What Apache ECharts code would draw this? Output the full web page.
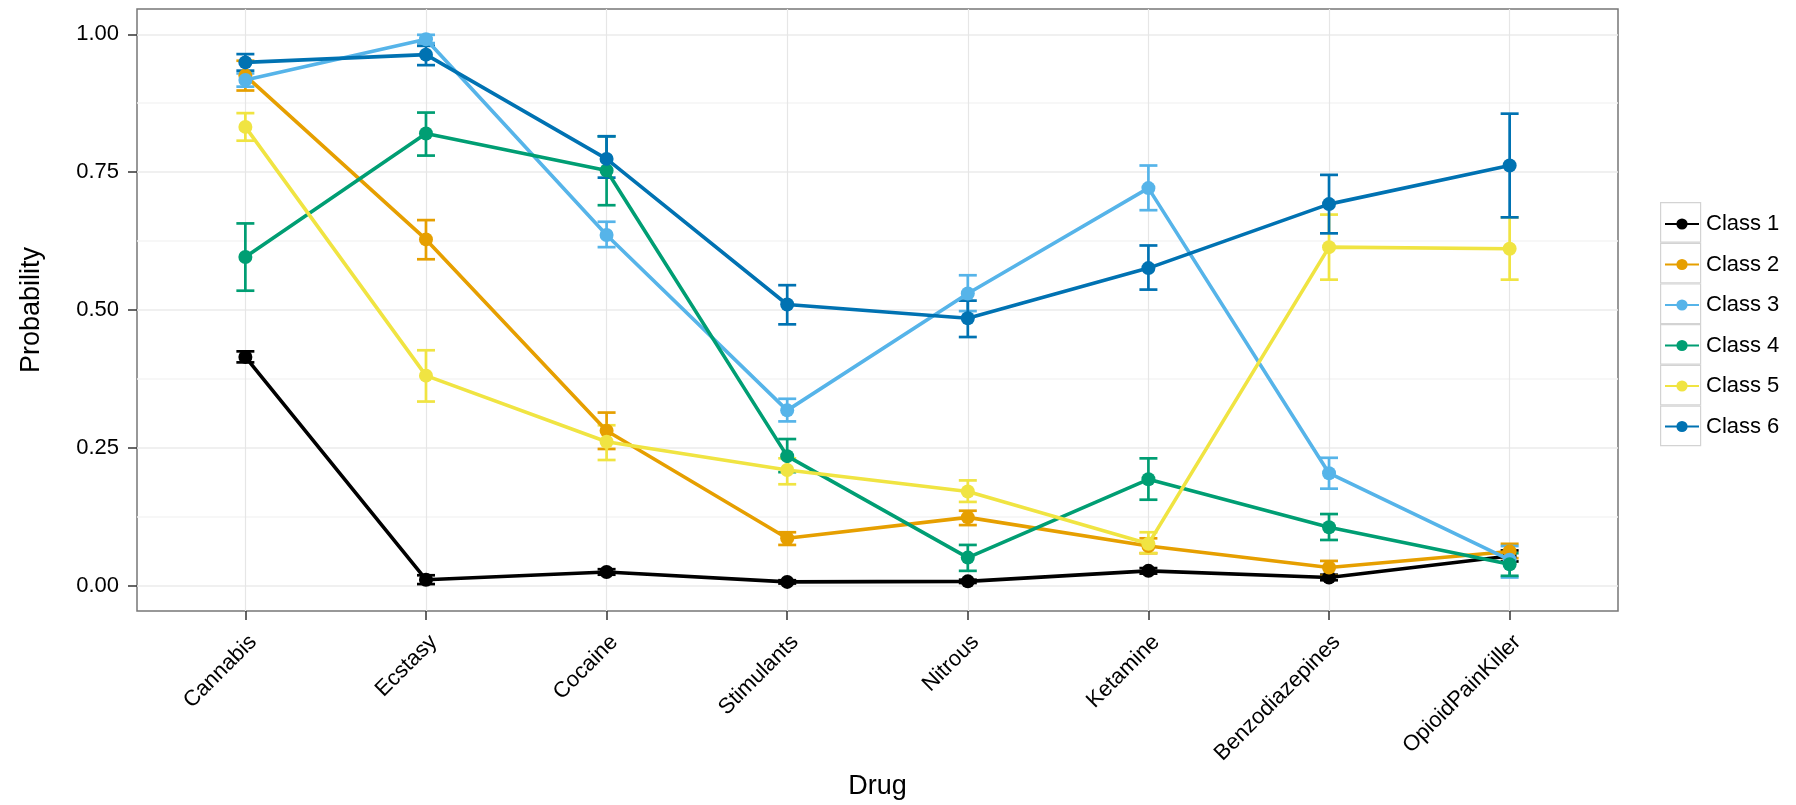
<!DOCTYPE html>
<html>
<head>
<meta charset="utf-8">
<title>Drug use class probabilities</title>
<script src="https://cdn.jsdelivr.net/npm/echarts@6.0.0/dist/echarts.min.js"></script>
<style>
  html, body { margin: 0; padding: 0; background: #fff; }
  #main { width: 1796px; height: 805px; }
</style>
</head>
<body>
<div id="main"></div>
<script>
// categories on the x axis
var drugs = ['Cannabis', 'Ecstasy', 'Cocaine', 'Stimulants', 'Nitrous', 'Ketamine', 'Benzodiazepines', 'OpioidPainKiller'];
var classNames = ['Class 1', 'Class 2', 'Class 3', 'Class 4', 'Class 5', 'Class 6'];
var classColors = ['#000000', '#E69F00', '#56B4E9', '#009E73', '#F0E442', '#0072B2'];

// estimated probability, lower and upper bound per class
var class1 = [0.415, 0.011, 0.025, 0.007, 0.008, 0.027, 0.015, 0.054];
var class1Lo = [0.405, 0.003, 0.020, 0.004, 0.005, 0.022, 0.010, 0.044];
var class1Hi = [0.425, 0.019, 0.030, 0.010, 0.011, 0.032, 0.020, 0.064];

var class2 = [0.925, 0.628, 0.281, 0.086, 0.124, 0.072, 0.033, 0.062];
var class2Lo = [0.898, 0.592, 0.248, 0.074, 0.110, 0.059, 0.018, 0.050];
var class2Hi = [0.952, 0.663, 0.314, 0.097, 0.136, 0.086, 0.045, 0.076];

var class3 = [0.917, 0.991, 0.636, 0.318, 0.530, 0.721, 0.204, 0.047];
var class3Lo = [0.905, 0.984, 0.614, 0.298, 0.498, 0.681, 0.176, 0.015];
var class3Hi = [0.929, 0.999, 0.660, 0.339, 0.563, 0.762, 0.232, 0.072];

var class4 = [0.596, 0.820, 0.753, 0.235, 0.051, 0.193, 0.106, 0.039];
var class4Lo = [0.535, 0.780, 0.690, 0.206, 0.027, 0.156, 0.083, 0.018];
var class4Hi = [0.657, 0.858, 0.815, 0.266, 0.074, 0.231, 0.130, 0.059];

var class5 = [0.832, 0.381, 0.261, 0.210, 0.171, 0.076, 0.614, 0.611];
var class5Lo = [0.807, 0.334, 0.228, 0.184, 0.152, 0.059, 0.555, 0.555];
var class5Hi = [0.857, 0.427, 0.291, 0.231, 0.191, 0.097, 0.673, 0.668];

var class6 = [0.949, 0.963, 0.774, 0.510, 0.485, 0.576, 0.692, 0.762];
var class6Lo = [0.934, 0.944, 0.740, 0.474, 0.451, 0.537, 0.639, 0.668];
var class6Hi = [0.964, 0.979, 0.815, 0.545, 0.517, 0.617, 0.745, 0.856];

// tick labels
var yTicks = [0, 0.25, 0.5, 0.75, 1];
var yMinorTicks = [0.125, 0.375, 0.625, 0.875];

var probs = [class1, class2, class3, class4, class5, class6];
var lows = [class1Lo, class2Lo, class3Lo, class4Lo, class5Lo, class6Lo];
var highs = [class1Hi, class2Hi, class3Hi, class4Hi, class5Hi, class6Hi];

var font = 'Liberation Sans';
var drugIdx = drugs.map(function (d, i) { return i; });

//error bar: vertical line plus two caps
function renderErrorBar(params, api) {
	var x = api.value(0);
	var top = api.coord([x, api.value(2)]);
	var bot = api.coord([x, api.value(1)]);
	var hw = 9;
	var style = { stroke: api.visual('color'), lineWidth: 2.7, fill: null };
	return {
		type: 'group',
		children: [
			{ type: 'line', shape: { x1: top[0], y1: top[1], x2: bot[0], y2: bot[1] }, style: style },
			{ type: 'line', shape: { x1: top[0] - hw, y1: top[1], x2: top[0] + hw, y2: top[1] }, style: style },
			{ type: 'line', shape: { x1: bot[0] - hw, y1: bot[1], x2: bot[0] + hw, y2: bot[1] }, style: style }
		]
	};
}

var series = [];
for (var c = 0; c < classNames.length; c++) {
	var barData = [];
	for (var i = 0; i < drugs.length; i++) {
		barData.push([i, lows[c][i], highs[c][i]]);
	}
	series.push({
		type: 'custom',
		renderItem: renderErrorBar,
		data: barData,
		encode: { x: 0, y: [1, 2] },
		itemStyle: { color: classColors[c] },
		z: 1,
		silent: true
	});
}
for (var c = 0; c < classNames.length; c++) {
	var lineData = [];
	for (var i = 0; i < drugs.length; i++) {
		lineData.push([i, probs[c][i]]);
	}
	series.push({
		name: classNames[c],
		type: 'line',
		data: lineData,
		symbol: 'circle',
		symbolSize: 14,
		showSymbol: true,
		color: classColors[c],
		itemStyle: { color: classColors[c] },
		lineStyle: { color: classColors[c], width: 3.6 },
		z: 2 + c
	});
}

var chart = echarts.init(document.getElementById('main'), null, { renderer: 'canvas' });
var option = {
	animation: false,
	backgroundColor: '#ffffff',
	textStyle: { fontFamily: font },
	grid: {
		left: 137, top: 9, right: 178, bottom: 193,
		show: true,
		borderColor: '#777777',
		borderWidth: 1.5,
		backgroundColor: '#ffffff'
	},
	xAxis: {
		type: 'value',
		min: -0.6,
		max: 7.6,
		name: 'Drug',
		nameLocation: 'middle',
		nameGap: 162,
		nameTextStyle: { fontSize: 27, color: '#000', fontFamily: font },
		axisLine: { show: false, onZero: false },
		axisTick: { show: true, length: 9, customValues: drugIdx, lineStyle: { color: '#333', width: 1.5 } },
		axisLabel: {
			customValues: drugIdx,
			rotate: 45,
			margin: 20,
			fontSize: 22,
			color: '#000',
			fontFamily: font,
			verticalAlign: 'top',
			formatter: function (v) { return drugs[Math.round(v)] || ''; }
		},
		splitLine: { show: true, lineStyle: { color: '#e6e6e6', width: 1.2 } }
	},
	yAxis: [{
		type: 'value',
		min: -0.0458,
		max: 1.0458,
		name: 'Probability',
		nameLocation: 'middle',
		nameGap: 92,
		nameTextStyle: { fontSize: 27, color: '#000', fontFamily: font },
		axisLine: { show: false, onZero: false },
		axisTick: { show: true, length: 9, customValues: yTicks, lineStyle: { color: '#333', width: 1.5 } },
		axisLabel: {
			customValues: yTicks,
			margin: 18,
			fontSize: 22,
			color: '#000',
			fontFamily: font,
			formatter: function (v) { return v.toFixed(2); }
		},
		splitLine: { show: true, lineStyle: { color: '#ebebeb', width: 1.5 } }
	}, {
		// minor grid lines only
		type: 'value',
		min: -0.0458,
		max: 1.0458,
		position: 'left',
		axisLine: { show: false, onZero: false },
		axisTick: { show: false, customValues: yMinorTicks },
		axisLabel: { show: false, customValues: yMinorTicks },
		splitLine: { show: true, lineStyle: { color: '#f5f5f5', width: 1.5 } }
	}],
	legend: [{
		// key boxes
		data: classNames,
		orient: 'vertical',
		left: 1660,
		top: 202,
		padding: 0,
		icon: 'rect',
		itemWidth: 40,
		itemHeight: 39.5,
		itemGap: 0,
		selectedMode: false,
		formatter: function () { return ''; },
		itemStyle: { color: '#ffffff', borderColor: '#d3d3d3', borderWidth: 1.2 },
		lineStyle: { width: 0 },
		textStyle: { fontSize: 1 }
	}, {
		data: classNames,
		orient: 'vertical',
		left: 1664,
		top: 213,
		padding: 0,
		itemWidth: 34,
		itemHeight: 14,
		itemGap: 18.5,
		selectedMode: false,
		textStyle: { fontSize: 22, color: '#000', fontFamily: font, padding: [0, 0, 0, 2] }
	}],
	series: series
};
chart.setOption(option);
</script>
</body>
</html>
